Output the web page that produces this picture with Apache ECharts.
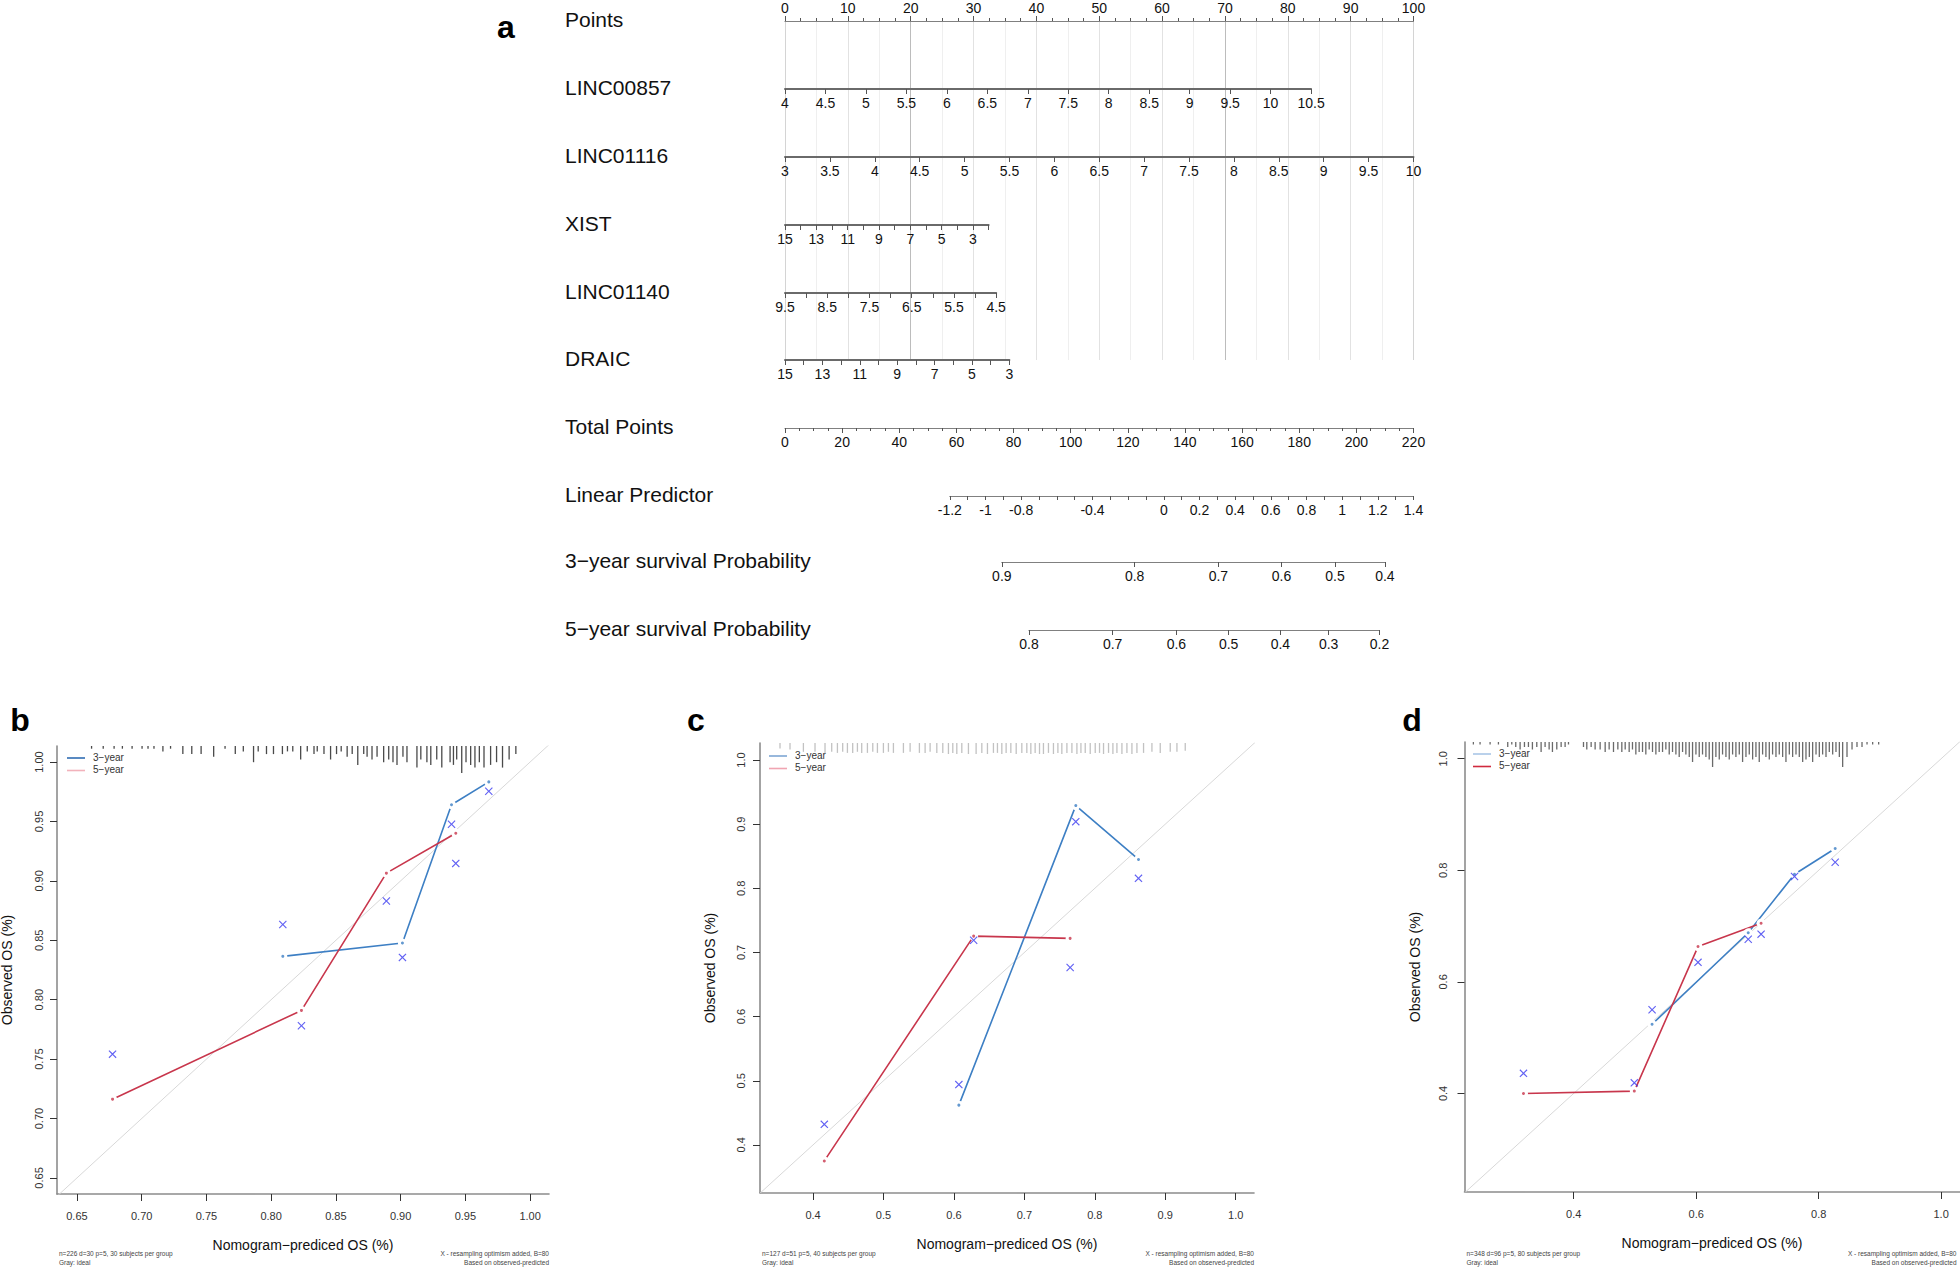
<!DOCTYPE html>
<html><head><meta charset="utf-8">
<script src="https://cdn.jsdelivr.net/npm/echarts@6/dist/echarts.min.js"></script>
<style>html,body{margin:0;padding:0;background:#fff}#c{width:1960px;height:1269px}</style>
</head><body><div id="c"></div>
<script>
// ================= DATA: panel a (nomogram) =================
const rowNames = ['Points','LINC00857','LINC01116','XIST','LINC01140','DRAIC','Total Points','Linear Predictor','3\u2212year survival Probability','5\u2212year survival Probability'];
const pointsMax = 100;
const totalPointsMax = 220;
// predictor value ranges (left end -> right end) and the points they span
const linc00857Range = [4, 10.5];   const linc00857Pts = [0, 83.7];
const linc01116Range = [3, 10];     const linc01116Pts = [0, 100];
const xistRange = [15, 2];          const xistPts = [0, 32.4];
const linc01140Range = [9.5, 4.5];  const linc01140Pts = [0, 33.6];
const draicRange = [15, 3];         const draicPts = [0, 35.7];
const linc00857Labels = [4,4.5,5,5.5,6,6.5,7,7.5,8,8.5,9,9.5,10,10.5];
const linc01116Labels = [3,3.5,4,4.5,5,5.5,6,6.5,7,7.5,8,8.5,9,9.5,10];
const xistLabels = [15,13,11,9,7,5,3];
const linc01140Labels = [9.5,8.5,7.5,6.5,5.5,4.5];
const draicLabels = [15,13,11,9,7,5,3];
const lpRange = [-1.2, 1.4];        const lpTotalPts = [57.7, 220];
const lpLabels = [-1.2,-1,-0.8,-0.4,0,0.2,0.4,0.6,0.8,1,1.2,1.4];
const surv3Labels = ['0.9','0.8','0.7','0.6','0.5','0.4'];
const surv3TotalPts = [75.9,122.4,151.7,173.8,192.5,210.0];
const surv5Labels = ['0.8','0.7','0.6','0.5','0.4','0.3','0.2'];
const surv5TotalPts = [85.4,114.7,137.0,155.3,173.4,190.3,208.1];

// ================= DATA: calibration panels =================
// b
const bTicks = [0.65,0.70,0.75,0.80,0.85,0.90,0.95,1.00];
const bX3 = [0.809,0.9014,0.9393,0.9681], bY3 = [0.8365,0.8477,0.9641,0.9833], bYX3 = [0.8633,0.8356,0.9477,0.9754];
const bX5 = [0.6775,0.8234,0.889,0.9426], bY5 = [0.7163,0.791,0.9065,0.9401], bYX5 = [0.7542,0.7781,0.8831,0.9147];
const bRug = [[0.6613,1],[0.6703,1],[0.6787,1],[0.6851,1],[0.6926,1],[0.7003,1],[0.7049,1],[0.7095,1],[0.7164,2],[0.7223,1],[0.7318,3],[0.7387,3],[0.7459,3],[0.7556,4],[0.7644,1],[0.7723,3],[0.7785,2],[0.7864,6],[0.7900,2],[0.7964,3],[0.8018,3],[0.8087,3],[0.8126,2],[0.8167,2],[0.8228,5],[0.8279,2],[0.8331,3],[0.8356,2],[0.8408,3],[0.8459,5],[0.8505,3],[0.8541,2],[0.8587,4],[0.8626,3],[0.8669,7],[0.8715,3],[0.8741,4],[0.8779,5],[0.8818,4],[0.8869,6],[0.8908,5],[0.8941,6],[0.8972,7],[0.9018,4],[0.9049,6],[0.9126,8],[0.9156,5],[0.9203,6],[0.9233,7],[0.9279,5],[0.9318,8],[0.9382,6],[0.9408,7],[0.9433,5],[0.9472,10],[0.9505,6],[0.9541,7],[0.9574,8],[0.9608,6],[0.9644,8],[0.9695,7],[0.9741,6],[0.9787,8],[0.9838,5],[0.9890,3]];
// c
const cTicks = [0.4,0.5,0.6,0.7,0.8,0.9,1.0];
const cX3 = [0.607,0.773,0.862], cY3 = [0.462,0.929,0.845], cYX3 = [0.494,0.904,0.8156];
const cX5 = [0.416,0.628,0.765], cY5 = [0.375,0.7255,0.722], cYX5 = [0.432,0.719,0.6766];
const cRug = [[0.3531,5],[0.3673,6],[0.3863,8],[0.4028,8],[0.4170,9],[0.4265,8],[0.4346,9],[0.4421,8],[0.4488,9],[0.4563,9],[0.4630,8],[0.4691,9],[0.4772,9],[0.4848,8],[0.4914,9],[0.4999,9],[0.5070,8],[0.5141,9],[0.5283,9],[0.5378,8],[0.5510,9],[0.5591,9],[0.5662,8],[0.5757,9],[0.5842,9],[0.5922,10],[0.5984,9],[0.6041,10],[0.6112,9],[0.6206,10],[0.6315,10],[0.6396,9],[0.6476,10],[0.6561,9],[0.6618,9],[0.6680,10],[0.6741,9],[0.6808,9],[0.6884,10],[0.6964,9],[0.7035,9],[0.7092,10],[0.7153,9],[0.7215,10],[0.7271,10],[0.7342,9],[0.7413,10],[0.7476,9],[0.7532,10],[0.7604,9],[0.7675,9],[0.7746,10],[0.7803,9],[0.7864,9],[0.7935,10],[0.8006,9],[0.8067,9],[0.8124,10],[0.8195,9],[0.8257,10],[0.8314,9],[0.8385,10],[0.8456,9],[0.8527,10],[0.8598,9],[0.8692,9],[0.8811,8],[0.8929,9],[0.9071,8],[0.9166,8],[0.9284,7]];
// d
const dTicks = [0.4,0.6,0.8,1.0];
const dX3 = [0.528,0.685,0.7606,0.827], dY3 = [0.524,0.688,0.793,0.839], dYX3 = [0.55,0.6765,0.789,0.8144];
const dX5 = [0.318,0.499,0.603,0.706], dY5 = [0.3998,0.4042,0.6633,0.7052], dYX5 = [0.436,0.419,0.635,0.6855];
const dRug = [[0.2362,1],[0.2471,1],[0.2635,1],[0.2771,1],[0.2923,2],[0.2989,1],[0.3054,2],[0.3125,3],[0.3196,2],[0.3261,2],[0.3326,3],[0.3397,2],[0.3468,4],[0.3533,2],[0.3599,3],[0.3653,4],[0.3724,3],[0.3795,2],[0.3860,2],[0.3915,1],[0.4160,2],[0.4214,3],[0.4285,2],[0.4350,3],[0.4432,3],[0.4514,4],[0.4579,3],[0.4650,4],[0.4721,3],[0.4786,4],[0.4841,3],[0.4906,4],[0.4960,3],[0.5015,5],[0.5069,4],[0.5124,4],[0.5178,5],[0.5233,3],[0.5287,4],[0.5342,5],[0.5396,4],[0.5451,4],[0.5505,3],[0.5560,5],[0.5614,4],[0.5669,5],[0.5723,6],[0.5778,4],[0.5832,5],[0.5887,6],[0.5941,8],[0.5996,5],[0.6050,6],[0.6104,5],[0.6159,6],[0.6213,7],[0.6268,10],[0.6322,6],[0.6377,7],[0.6431,5],[0.6486,6],[0.6540,7],[0.6595,5],[0.6649,6],[0.6704,5],[0.6758,8],[0.6813,6],[0.6867,5],[0.6922,7],[0.6976,6],[0.7030,8],[0.7085,5],[0.7139,6],[0.7194,7],[0.7248,5],[0.7303,6],[0.7357,5],[0.7412,6],[0.7466,8],[0.7521,5],[0.7575,6],[0.7630,5],[0.7684,6],[0.7739,8],[0.7793,7],[0.7848,6],[0.7902,8],[0.7957,5],[0.8011,6],[0.8065,5],[0.8120,6],[0.8174,4],[0.8229,5],[0.8283,4],[0.8338,6],[0.8392,10],[0.8463,6],[0.8545,3],[0.8626,2],[0.8708,2],[0.8790,1],[0.8882,1],[0.8980,1]];

const footLeft = {b:'n=226 d=30 p=5, 30 subjects per group', c:'n=127 d=51 p=5, 40 subjects per group', d:'n=348 d=96 p=5, 80 subjects per group'};
const footLeft2 = 'Gray: ideal';
const footRight = 'X - resampling optimism added, B=80';
const footRight2 = 'Based on observed-predicted';

// ================= LAYOUT / BUILD =================
const FONT = '"Liberation Sans", Arial, Helvetica, sans-serif';
const P0 = 785, P1 = 1413.5;
const PPP = (P1 - P0) / pointsMax;
const TPP = (P1 - P0) / totalPointsMax;
const rowY = [21, 89, 157, 225, 293, 360, 428, 496, 562, 630];

const grids = [], xAxes = [], yAxes = [], series = [], graphics = [];
function addGrid(g, x, y) {
  grids.push(Object.assign({containLabel: false, outerBoundsMode: 'none'}, g));
  const gi = grids.length - 1;
  xAxes.push(Object.assign({gridIndex: gi, type: 'value', splitLine: {show: false}}, x));
  yAxes.push(Object.assign({gridIndex: gi, type: 'value', show: false, min: 0, max: 1, splitLine: {show: false}}, y || {}));
  return gi;
}

// vertical reference lines of the nomogram
const gridColors = ['#d4d4d4','#e2e2e2','#bcbcbc','#e2e2e2','#e2e2e2','#e2e2e2','#e2e2e2','#bcbcbc','#e2e2e2','#e2e2e2','#d4d4d4'];
addGrid({left: P0, width: P1 - P0, top: rowY[0], height: rowY[5] - rowY[0]},
  {min: 0, max: pointsMax, interval: 10, axisLine: {show: false}, axisTick: {show: false}, axisLabel: {show: false},
   splitLine: {show: true, lineStyle: {color: gridColors, width: 1}},
   minorTick: {show: false, splitNumber: 2}, minorSplitLine: {show: true, lineStyle: {color: '#efefef', width: 1}}});

const thinLine = {show: true, onZero: false, lineStyle: {color: '#808080', width: 1.2}};
const thickLine = {show: true, onZero: false, lineStyle: {color: '#6a6a6a', width: 2}};
const tickStyle = {color: '#555', width: 1};
const labelBase = {fontSize: 14, color: '#111', fontFamily: FONT, margin: 7};

function rowGrid(i, left, right, xa) {
  const top = xa.position === 'top' ? rowY[i] : rowY[i] - 1;
  addGrid({left: left, width: right - left, top: top, height: 1}, xa);
}
// Points
rowGrid(0, P0, P1, {min: 0, max: pointsMax, interval: 10, position: 'top', axisLine: thinLine,
  axisTick: {show: true, length: 5, lineStyle: tickStyle}, minorTick: {show: true, splitNumber: 4, length: 3, lineStyle: tickStyle},
  axisLabel: Object.assign({}, labelBase, {margin: 6})});
// predictors
function predictorRow(i, range, pts, labels, tickInterval) {
  const lo = Math.min(range[0], range[1]), hi = Math.max(range[0], range[1]);
  rowGrid(i, P0 + pts[0] * PPP, P0 + pts[1] * PPP, {min: lo, max: hi, interval: tickInterval, inverse: range[0] > range[1],
    position: 'bottom', axisLine: thickLine, axisTick: {show: true, length: 5, lineStyle: tickStyle},
    axisLabel: Object.assign({}, labelBase, {customValues: labels})});
}
predictorRow(1, linc00857Range, linc00857Pts, linc00857Labels, 0.5);
predictorRow(2, linc01116Range, linc01116Pts, linc01116Labels, 0.5);
predictorRow(3, xistRange, xistPts, xistLabels, 1);
predictorRow(4, linc01140Range, linc01140Pts, linc01140Labels, 0.5);
predictorRow(5, draicRange, draicPts, draicLabels, 1);
// Total points
rowGrid(6, P0, P1, {min: 0, max: totalPointsMax, interval: 20, position: 'bottom', axisLine: thinLine,
  axisTick: {show: true, length: 5, lineStyle: tickStyle}, minorTick: {show: true, splitNumber: 4, length: 3, lineStyle: tickStyle},
  axisLabel: labelBase});
// Linear predictor
rowGrid(7, P0 + lpTotalPts[0] * TPP, P0 + lpTotalPts[1] * TPP, {min: lpRange[0], max: lpRange[1], interval: 0.1, position: 'bottom',
  axisLine: thinLine, axisTick: {show: true, length: 4, lineStyle: tickStyle},
  axisLabel: Object.assign({}, labelBase, {customValues: lpLabels})});
// survival probabilities
function survRow(i, pos, labels) {
  rowGrid(i, P0 + pos[0] * TPP, P0 + pos[pos.length - 1] * TPP, {min: pos[0], max: pos[pos.length - 1], position: 'bottom',
    axisLine: thinLine, axisTick: {show: true, length: 5, customValues: pos, lineStyle: tickStyle},
    axisLabel: Object.assign({}, labelBase, {customValues: pos, formatter: v => labels[pos.indexOf(v)]})});
}
survRow(8, surv3TotalPts, surv3Labels);
survRow(9, surv5TotalPts, surv5Labels);

rowNames.forEach((n, i) => graphics.push({type: 'text', left: 565, top: rowY[i] - 12,
  style: {text: n, font: '21px ' + FONT, fill: '#111'}}));

// ----- calibration panels -----
const BLUE = '#3d7fc4', RED = '#c8364c', XCOL = '#3a3af0';
const zip = (xs, ys) => xs.map((x, i) => [x, ys[i]]);
const xPath = 'path://M1,0 L5,4 L9,0 L10,1 L6,5 L10,9 L9,10 L5,6 L1,10 L0,9 L4,5 L0,1 Z';

function calPanel(p) {
  const axLine = {show: true, onZero: false, lineStyle: {color: '#8c8c8c', width: 1.6}};
  const gi = addGrid({left: p.left, top: p.top, width: p.width, height: p.height},
    {min: p.xr[0], max: p.xr[1], position: 'bottom', axisLine: axLine,
     axisTick: {show: true, length: 7, customValues: p.ticks, lineStyle: {color: '#333'}},
     axisLabel: {customValues: p.ticks, formatter: v => v.toFixed(p.dec), margin: 16, fontSize: 11, color: '#333', fontFamily: FONT},
     name: 'Nomogram\u2212prediced OS (%)', nameLocation: 'middle', nameGap: 44,
     nameTextStyle: {fontSize: 14, color: '#111', fontFamily: FONT}},
    {show: true, min: p.yr[0], max: p.yr[1], position: 'left', axisLine: axLine,
     axisTick: {show: true, length: 7, customValues: p.ticks, lineStyle: {color: '#333'}},
     axisLabel: {customValues: p.yticks || p.ticks, formatter: v => v.toFixed(p.dec), rotate: 90, margin: p.ym, fontSize: 11, color: '#333', fontFamily: FONT},
     name: 'Observed OS (%)', nameLocation: 'middle', nameGap: 43, nameRotate: 90,
     nameTextStyle: {fontSize: 14, color: '#111', fontFamily: FONT}});
  const common = {xAxisIndex: gi, yAxisIndex: gi, silent: true, animation: false};
  series.push(Object.assign({type: 'line', data: [[0, 0], [1.2, 1.2]], symbol: 'none', lineStyle: {color: '#d8d8d8', width: 1}, z: 1}, common));
  [[p.x3, p.y3, BLUE], [p.x5, p.y5, RED]].forEach(([xs, ys, col]) => {
    series.push(Object.assign({type: 'line', data: zip(xs, ys), symbol: 'circle', symbolSize: 9, showSymbol: true,
      itemStyle: {color: '#fff', borderWidth: 0}, lineStyle: {color: col, width: 1.6}, z: 2}, common));
    series.push(Object.assign({type: 'scatter', data: zip(xs, ys), symbol: 'circle', symbolSize: 3, itemStyle: {color: col}, z: 3}, common));
  });
  series.push(Object.assign({type: 'scatter', data: zip(p.x3, p.yx3).concat(zip(p.x5, p.yx5)), symbol: xPath, symbolSize: 8,
    itemStyle: {color: XCOL}, z: 4}, common));
  // rug of predicted values
  const ri = addGrid({left: p.left, top: p.top, width: p.width, height: p.rugH},
    {min: p.xr[0], max: p.xr[1], show: false}, {min: 0, max: 10, inverse: true});
  series.push({type: 'bar', xAxisIndex: ri, yAxisIndex: ri, data: p.rug, barWidth: 1.3, itemStyle: {color: p.rugCol},
    silent: true, animation: false, z: 1});
  // legend
  [['3\u2212year', p.leg3, 0], ['5\u2212year', p.leg5, 1]].forEach(([t, col, k]) => {
    const y = p.legY + k * 12.5;
    graphics.push({type: 'line', shape: {x1: p.legX, y1: y, x2: p.legX + 18, y2: y}, style: {stroke: col, lineWidth: 1.6}});
    graphics.push({type: 'text', left: p.legX + 26, top: y - 6, style: {text: t, font: '10px ' + FONT, fill: '#333'}});
  });
  // footnotes
  graphics.push({type: 'text', x: p.left + 2, y: 1249, style: {text: p.foot + '\n' + footLeft2, font: '6.5px ' + FONT, fill: '#444', lineHeight: 9}});
  graphics.push({type: 'text', x: p.left + p.width + p.footDx, y: 1249, style: {text: footRight + '\n' + footRight2, font: '6.5px ' + FONT, fill: '#444', lineHeight: 9, align: 'right'}});
  graphics.push({type: 'text', x: p.letterX, y: 720, style: {text: p.letter, font: 'bold 32px ' + FONT, fill: '#000', align: 'center', verticalAlign: 'middle'}});
}

calPanel({letter: 'b', letterX: 20, left: 57, top: 746, width: 492, height: 448, xr: [0.6346, 1.0146], yr: [0.6365, 1.0135],
  ticks: bTicks, dec: 2, ym: 13, x3: bX3, y3: bY3, yx3: bYX3, x5: bX5, y5: bY5, yx5: bYX5, rug: bRug, rugH: 27, rugCol: '#4a4a4a',
  legX: 67, legY: 758, leg3: '#2f6db3', leg5: '#f2b2bb', foot: footLeft.b, footDx: 0});
calPanel({letter: 'c', letterX: 696, left: 760, top: 743, width: 494, height: 450, xr: [0.3247, 1.026], yr: [0.325, 1.0266],
  ticks: cTicks, dec: 1, ym: 14, x3: cX3, y3: cY3, yx3: cYX3, x5: cX5, y5: cY5, yx5: cYX5, rug: cRug, rugH: 11, rugCol: '#c2c2c2',
  legX: 769, legY: 756, leg3: '#7ea6d4', leg5: '#f0a5b2', foot: footLeft.c, footDx: 0});
calPanel({letter: 'd', letterX: 1412, left: 1464.5, top: 742, width: 495, height: 450, xr: [0.2217, 1.03], yr: [0.2233, 1.03],
  ticks: dTicks, dec: 1, ym: 16, x3: dX3, y3: dY3, yx3: dYX3, x5: dX5, y5: dY5, yx5: dYX5, rug: dRug, rugH: 25, rugCol: '#6a6a6a',
  legX: 1473, legY: 754, leg3: '#a9c6e6', leg5: '#d02a3e', foot: footLeft.d, footDx: -3});

graphics.push({type: 'text', x: 506, y: 27, style: {text: 'a', font: 'bold 32px ' + FONT, fill: '#000', align: 'center', verticalAlign: 'middle'}});

const chart = echarts.init(document.getElementById('c'), null, {renderer: 'svg'});
chart.setOption({
  animation: false,
  backgroundColor: '#fff',
  textStyle: {fontFamily: FONT},
  grid: grids, xAxis: xAxes, yAxis: yAxes, series: series,
  graphic: {elements: graphics}
});
</script>
</body></html>
